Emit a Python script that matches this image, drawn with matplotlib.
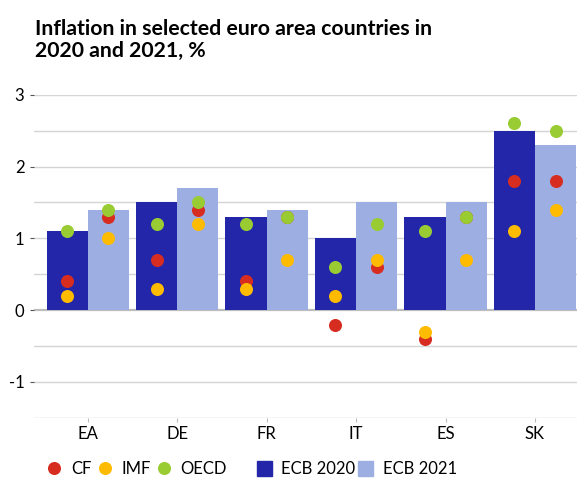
import matplotlib.pyplot as plt
from matplotlib.lines import Line2D
from matplotlib.patches import Patch
import numpy as np

plt.rcParams['font.family'] = ['Lato', 'DejaVu Sans']

# Data
countries = ['EA', 'DE', 'FR', 'IT', 'ES', 'SK']
ecb_2020 = [1.1, 1.5, 1.3, 1.0, 1.3, 2.5]
ecb_2021 = [1.4, 1.7, 1.4, 1.5, 1.5, 2.3]
cf_2020 = [0.4, 0.7, 0.4, -0.2, -0.4, 1.8]
cf_2021 = [1.3, 1.4, 1.3, 0.6, 1.3, 1.8]
imf_2020 = [0.2, 0.3, 0.3, 0.2, -0.3, 1.1]
imf_2021 = [1.0, 1.2, 0.7, 0.7, 0.7, 1.4]
oecd_2020 = [1.1, 1.2, 1.2, 0.6, 1.1, 2.6]
oecd_2021 = [1.4, 1.5, 1.3, 1.2, 1.3, 2.5]

c_dark = '#2326a8'
c_light = '#9daee2'
c_cf = '#d62d20'
c_imf = '#ffbb00'
c_oecd = '#99cc33'

fig = plt.figure(figsize=(5.77, 4.91), dpi=100)
ax = fig.add_axes([0.059, 0.149, 0.941, 0.658])

x = np.arange(len(countries))
w = 0.46
ax.bar(x - w / 2, ecb_2020, width=w, color=c_dark, zorder=2)
ax.bar(x + w / 2, ecb_2021, width=w, color=c_light, zorder=2)

ms = 88
for xs, vals in [(x - w / 2, (cf_2020, imf_2020, oecd_2020)),
                 (x + w / 2, (cf_2021, imf_2021, oecd_2021))]:
    ax.scatter(xs, vals[0], s=ms, color=c_cf, zorder=3, linewidths=0)
    ax.scatter(xs, vals[1], s=ms, color=c_imf, zorder=4, linewidths=0)
    ax.scatter(xs, vals[2], s=ms, color=c_oecd, zorder=5, linewidths=0)

ax.set_xlim(-0.6, 5.47)
ax.set_ylim(-1.5, 3)

# grid every 0.5, labels on integers
for yv in np.arange(-1.5, 3.01, 0.5):
    if yv == 0:
        ax.axhline(yv, color='#bdbdbd', lw=1.6, zorder=1)
    else:
        ax.axhline(yv, color='#d4d4d4', lw=1.0, zorder=1)

ax.set_yticks([-1, 0, 1, 2, 3])
ax.set_yticklabels(['-1', '0', '1', '2', '3'])
ax.set_xticks(x)
ax.set_xticklabels(countries)
ax.tick_params(axis='y', length=3, width=0.8, color='#555555', labelsize=12, pad=4)
ax.tick_params(axis='x', length=3, width=0.8, color='#bbbbbb', labelsize=12, pad=3)
for s in ['top', 'right', 'left', 'bottom']:
    ax.spines[s].set_visible(False)

fig.text(0.061, 0.962, 'Inflation in selected euro area countries in\n2020 and 2021, %',
         fontsize=15.3, fontweight='bold', va='top', ha='left', linespacing=1.15)

# legend: dots and bars as two groups
dot_handles = [Line2D([], [], marker='o', ls='', color=c, markersize=9.4, markeredgewidth=0)
               for c in (c_cf, c_imf, c_oecd)]
fig.legend(dot_handles, ['CF', 'IMF', 'OECD'], loc='center left',
           bbox_to_anchor=(0.081, 0.045), ncol=3, frameon=False, fontsize=12,
           handlelength=0.9, handletextpad=0.55, columnspacing=0.35, borderaxespad=0,
           borderpad=0)
bar_handles = [Patch(color=c_dark), Patch(color=c_light)]
fig.legend(bar_handles, ['ECB 2020', 'ECB 2021'], loc='center left',
           bbox_to_anchor=(0.445, 0.045), ncol=2, frameon=False, fontsize=12,
           handlelength=0.9, handleheight=1.0, handletextpad=0.55, columnspacing=0.2,
           borderaxespad=0, borderpad=0)

fig.savefig('out.png', dpi=100)
